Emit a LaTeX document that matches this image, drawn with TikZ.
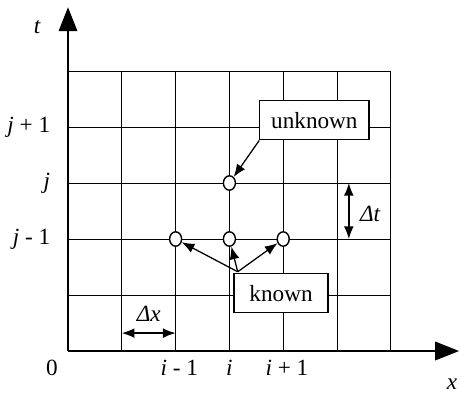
\documentclass[tikz,border=0pt]{standalone}
\usepackage{fontspec}
\setmainfont{Liberation Serif}
\usetikzlibrary{arrows.meta, positioning, shapes.geometric}

\tikzset{
  pt/.style={ellipse, draw, fill=white, line width=1pt, minimum width=0.3cm, minimum height=0.36cm, inner sep=0pt},
  lbl/.style={rectangle, draw, fill=white, line width=0.8pt, inner sep=0pt},
  axis/.style={line width=1.7pt, -{Triangle[length=17pt,width=13pt]}}
}

\begin{document}
\begin{tikzpicture}[x=1.345cm, y=1.4cm, font=\fontsize{16.5}{19}\selectfont]
		\useasboundingbox (-1.264,-0.786) rectangle (7.286,6.268);
		% Grille
		\draw[line width=0.7pt, xstep=1.345cm, ystep=1.4cm] (0,0) grid (6,5);
		
		% Axes
		\coordinate (o) at (0,0);
		\coordinate (tend) at (0,6.14);
		\coordinate (xend) at (7.27,0);
		\draw[axis] (o) -- (tend);
		\draw[axis] (o) -- (xend);
		\node (tlab) at (-0.57,5.79) {\textit{t}};
		\node (xlab) at (7.14,-0.6) {\textit{x}};
		\node (zero) at (-0.3,-0.3) {0};
		
		% Indices
		\node[anchor=east] (jp) at (-0.24,4) {\textit{j} + 1};
		\node[anchor=east] (j) at (-0.24,3) {\textit{j}};
		\node[anchor=east] (jm) at (-0.24,2) {\textit{j} - 1};
		\node (im) at (2.07,-0.3) {\textit{i} - 1};
		\node (i) at (3,-0.3) {\textit{i}};
		\node (ip) at (4.07,-0.3) {\textit{i} + 1};
		
		% Points
		\node[pt] (k1) at (2,2) {};
		\node[pt] (k2) at (3,2) {};
		\node[pt] (k3) at (4,2) {};
		\node[pt] (u) at (3,3) {};
		
		% Etiquettes
		\node[lbl, minimum width=2.73cm, minimum height=0.98cm] (unknown) at (4.58,4.12) {unknown};
		\node[lbl, minimum width=2.35cm, minimum height=0.98cm] (known) at (3.96,1.03) {known};
		\coordinate (kf) at ([xshift=3pt,yshift=1pt]known.north west);
		
		% Flèches
		\draw[-{Latex[length=9pt,width=7pt]}, line width=0.9pt] (unknown.south west) -- (u);
		\draw[-{Latex[length=9pt,width=7pt]}, line width=0.9pt] (kf) -- (k1);
		\draw[-{Latex[length=9pt,width=7pt]}, line width=0.9pt] (kf) -- (k2);
		\draw[-{Latex[length=9pt,width=7pt]}, line width=0.9pt] (kf) -- (k3);
		
		% Pas
		\coordinate (dt1) at (5.22,3);
		\coordinate (dt2) at (5.22,2);
		\draw[{Latex[length=9pt,width=7pt]}-{Latex[length=9pt,width=7pt]}, line width=1pt] (dt1) -- (dt2);
		\node (dtlab) at (5.62,2.45) {\textit{Δt}};
		\coordinate (dx1) at (1,0.32);
		\coordinate (dx2) at (2,0.32);
		\draw[{Latex[length=9pt,width=7pt]}-{Latex[length=9pt,width=7pt]}, line width=1pt] (dx1) -- (dx2);
		\node (dxlab) at (1.5,0.66) {\textit{Δx}};
	\end{tikzpicture}
\end{document}
